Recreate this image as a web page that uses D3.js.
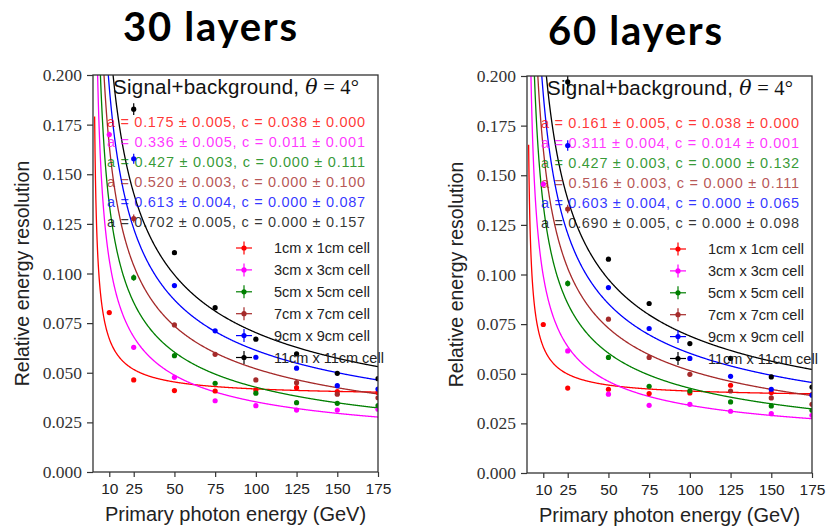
<!DOCTYPE html>
<html>
<head>
<meta charset="utf-8">
<script src="https://cdn.jsdelivr.net/npm/d3@7"></script>
<style>
  body { margin: 0; background: #fff; }
  svg { display: block; }
</style>
</head>
<body>
<script>
// beam energies (GeV) and cell sizes
var energies = [10, 25, 50, 75, 100, 125, 150, 175];
var cells = ['1cm x 1cm cell', '3cm x 3cm cell', '5cm x 5cm cell', '7cm x 7cm cell', '9cm x 9cm cell', '11cm x 11cm cell'];
var xTicks = [10, 25, 50, 75, 100, 125, 150, 175];
var yTicks = [0, 0.025, 0.05, 0.075, 0.1, 0.125, 0.15, 0.175, 0.2];

// 30 layers: measured resolution (null = off the plot)
var res30_1cm  = [0.0803, 0.0464, 0.0410, 0.0408, 0.0413, 0.0425, 0.0405, 0.0400];
var res30_3cm  = [0.170, 0.0628, 0.0477, 0.0359, 0.0334, 0.0312, 0.0312, 0.0316];
var res30_5cm  = [null, 0.0979, 0.0586, 0.0447, 0.0397, 0.0349, 0.0346, 0.0334];
var res30_7cm  = [null, 0.1277, 0.0741, 0.0593, 0.0464, 0.0450, 0.0392, 0.0374];
var res30_9cm  = [null, 0.1578, 0.0939, 0.0711, 0.0578, 0.0523, 0.0435, 0.0418];
var res30_11cm = [null, 0.1828, 0.1105, 0.0828, 0.0669, 0.0595, 0.0497, 0.0470];
// relative error per energy point
var relErr30 = [0.008, 0.016, 0.008, 0.007, 0.006, 0.006, 0.006, 0.006];

// 60 layers
var res60_1cm  = [0.0748, 0.0428, 0.0422, 0.0400, 0.0403, 0.0442, 0.0405, 0.0395];
var res60_3cm  = [0.1455, 0.0615, 0.0397, 0.0341, 0.0346, 0.0311, 0.0299, 0.0291];
var res60_5cm  = [null, 0.0955, 0.0582, 0.0437, 0.0413, 0.0358, 0.0338, 0.0316];
var res60_7cm  = [null, 0.133, 0.0775, 0.0582, 0.0497, 0.0413, 0.0378, 0.0346];
var res60_9cm  = [null, 0.165, 0.0934, 0.0728, 0.0577, 0.0487, 0.0422, 0.0392];
var res60_11cm = [null, 0.197, 0.1077, 0.0854, 0.0652, 0.0577, 0.0484, 0.0433];
var relErr60 = [0.008, 0.016, 0.008, 0.007, 0.006, 0.006, 0.006, 0.006];

// fit parameters: sigma/E = a/sqrt(E) (+) c
var fitA30 = [0.175, 0.336, 0.427, 0.520, 0.613, 0.702];
var fitAErr30 = [0.005, 0.005, 0.003, 0.003, 0.004, 0.005];
var fitC30 = [0.038, 0.011, 0.000, 0.000, 0.000, 0.000];
var fitCErr30 = [0.000, 0.001, 0.111, 0.100, 0.087, 0.157];

var fitA60 = [0.161, 0.311, 0.427, 0.516, 0.603, 0.690];
var fitAErr60 = [0.005, 0.004, 0.003, 0.003, 0.004, 0.005];
var fitC60 = [0.038, 0.014, 0.000, 0.000, 0.000, 0.000];
var fitCErr60 = [0.000, 0.001, 0.132, 0.111, 0.065, 0.098];

var colors = ['#ff0000', '#ff00ff', '#007f00', '#a52a2a', '#0000ff', '#000000'];

var svg = d3.select('body').append('svg')
  .attr('width', 826)
  .attr('height', 526);

var f3 = d3.format('.3f');

function drawPanel(p, idx) {
  var x = d3.scaleLinear().domain([0, 175]).range([p.x0, p.x1]);
  var y = d3.scaleLinear().domain([0, 0.2]).range([p.y0, p.y1]);
  var g = svg.append('g');

  // big title
  g.append('text')
    .attr('x', p.titleX).attr('y', p.titleY)
    .attr('text-anchor', 'middle')
    .style('font-family', 'Lato, "Open Sans", sans-serif')
    .style('font-weight', 'bold')
    .style('font-size', '40px')
    .attr('textLength', 174)
    .text(p.title);

  var clipId = 'clip' + idx;
  svg.append('clipPath').attr('id', clipId)
    .append('rect')
    .attr('x', p.x0).attr('y', p.y1)
    .attr('width', p.x1 - p.x0).attr('height', p.y0 - p.y1);

  // fit curves
  var grid = d3.range(1, 175.01, 0.25);
  var line = d3.line().x(function(d) { return x(d[0]); }).y(function(d) { return y(d[1]); });
  var curves = g.append('g').attr('clip-path', 'url(#' + clipId + ')');
  p.a.forEach(function(a, i) {
    var c = p.c[i];
    var pts = grid.map(function(e) { return [e, Math.sqrt(a * a / e + c * c)]; });
    curves.append('path')
      .attr('d', line(pts))
      .attr('fill', 'none')
      .attr('stroke', colors[i])
      .attr('stroke-width', 1.3);
  });

  // in-plot title
  var t = g.append('text')
    .attr('x', p.x0 + 20).attr('y', p.y1 + 19)
    .style('font-family', '"Liberation Sans", Arial, sans-serif')
    .style('font-size', '20.5px')
    .attr('fill', '#111')
    .attr('textLength', 246)
    .attr('lengthAdjust', 'spacing');
  t.append('tspan').text('Signal+background, ');
  t.append('tspan').style('font-family', '"DejaVu Serif", serif').style('font-style', 'italic').text('θ');
  t.append('tspan').style('font-family', '"Liberation Serif", serif').text(' = 4°');

  // fit results
  p.a.forEach(function(a, i) {
    g.append('text')
      .attr('x', p.x0 + 14)
      .attr('y', p.y1 + 51.5 + i * 20)
      .attr('fill', colors[i])
      .attr('fill-opacity', 0.8)
      .style('font-family', '"Liberation Sans", Arial, sans-serif')
      .style('font-size', '14.5px')
      .attr('textLength', 258)
      .attr('lengthAdjust', 'spacing')
      .text('a = ' + f3(a) + ' ± ' + f3(p.aErr[i]) + ', c = ' + f3(p.c[i]) + ' ± ' + f3(p.cErr[i]));
  });

  // data points with error bars
  var pts = g.append('g').attr('clip-path', 'url(#' + clipId + ')');
  p.series.forEach(function(vals, i) {
    var data = energies.map(function(e, j) { return { e: e, v: vals[j], s: vals[j] * p.relErr[j] }; })
      .filter(function(d) { return d.v != null; });
    pts.selectAll('line.eb' + i).data(data).enter().append('line')
      .attr('x1', function(d) { return x(d.e); }).attr('x2', function(d) { return x(d.e); })
      .attr('y1', function(d) { return y(d.v - d.s); }).attr('y2', function(d) { return y(d.v + d.s); })
      .attr('stroke', colors[i]).attr('stroke-width', 1.2);
    pts.selectAll('circle.pt' + i).data(data).enter().append('circle')
      .attr('cx', function(d) { return x(d.e); })
      .attr('cy', function(d) { return y(d.v); })
      .attr('r', 2.6)
      .attr('fill', colors[i]);
  });

  // legend
  var leg = g.append('g');
  cells.forEach(function(name, i) {
    var ly = p.y1 + 173 + i * 21.9;
    var lx = p.x0 + 151;
    leg.append('line').attr('x1', lx - 8).attr('x2', lx + 8).attr('y1', ly).attr('y2', ly)
      .attr('stroke', colors[i]).attr('stroke-width', 1.2);
    leg.append('line').attr('x1', lx).attr('x2', lx).attr('y1', ly - 6.5).attr('y2', ly + 6.5)
      .attr('stroke', colors[i]).attr('stroke-width', 1.2);
    leg.append('circle').attr('cx', lx).attr('cy', ly).attr('r', 2.6).attr('fill', colors[i]);
    leg.append('text')
      .attr('x', lx + 30).attr('y', ly + 5)
      .attr('fill', '#222')
      .style('font-family', '"Liberation Sans", Arial, sans-serif')
      .style('font-size', '14.5px')
      .text(name);
  });

  // axes
  var yAxis = g.append('g')
    .attr('transform', 'translate(' + p.x0 + ',0)')
    .call(d3.axisLeft(y).tickValues(yTicks).tickFormat(d3.format('.3f')).tickSize(6).tickPadding(5));
  yAxis.selectAll('text')
    .style('font-family', '"Liberation Serif", serif')
    .style('font-size', '17.5px')
    .attr('fill', '#333');

  var xAxis = g.append('g')
    .attr('transform', 'translate(0,' + p.y0 + ')')
    .call(d3.axisBottom(x).tickValues(xTicks).tickSize(5).tickPadding(6));
  xAxis.selectAll('text')
    .style('font-family', '"Liberation Sans", Arial, sans-serif')
    .style('font-size', '15.5px')
    .attr('fill', '#222');

  [yAxis, xAxis].forEach(function(a) {
    a.select('.domain').remove();
    a.selectAll('line').attr('stroke', '#333').attr('stroke-width', 1.2);
  });

  g.append('rect')
    .attr('x', p.x0).attr('y', p.y1)
    .attr('width', p.x1 - p.x0).attr('height', p.y0 - p.y1)
    .attr('fill', 'none').attr('stroke', '#333').attr('stroke-width', 1.3);

  // axis labels
  g.append('text')
    .attr('x', (p.x0 + p.x1) / 2).attr('y', p.y0 + 49)
    .attr('text-anchor', 'middle')
    .style('font-family', '"Liberation Sans", Arial, sans-serif')
    .style('font-size', '20px')
    .attr('fill', '#222')
    .text('Primary photon energy (GeV)');

  g.append('text')
    .attr('transform', 'translate(' + (p.x0 - 64) + ',' + ((p.y0 + p.y1) / 2) + ') rotate(-90)')
    .attr('text-anchor', 'middle')
    .style('font-family', '"Liberation Sans", Arial, sans-serif')
    .style('font-size', '19.5px')
    .attr('fill', '#222')
    .text('Relative energy resolution');
}

drawPanel({
  x0: 93, x1: 378, y0: 472, y1: 75,
  title: '30 layers', titleX: 210, titleY: 41,
  series: [res30_1cm, res30_3cm, res30_5cm, res30_7cm, res30_9cm, res30_11cm],
  relErr: relErr30,
  a: fitA30, aErr: fitAErr30, c: fitC30, cErr: fitCErr30
}, 0);

drawPanel({
  x0: 527, x1: 812, y0: 473, y1: 76,
  title: '60 layers', titleX: 635, titleY: 45,
  series: [res60_1cm, res60_3cm, res60_5cm, res60_7cm, res60_9cm, res60_11cm],
  relErr: relErr60,
  a: fitA60, aErr: fitAErr60, c: fitC60, cErr: fitCErr60
}, 1);
</script>
</body>
</html>
